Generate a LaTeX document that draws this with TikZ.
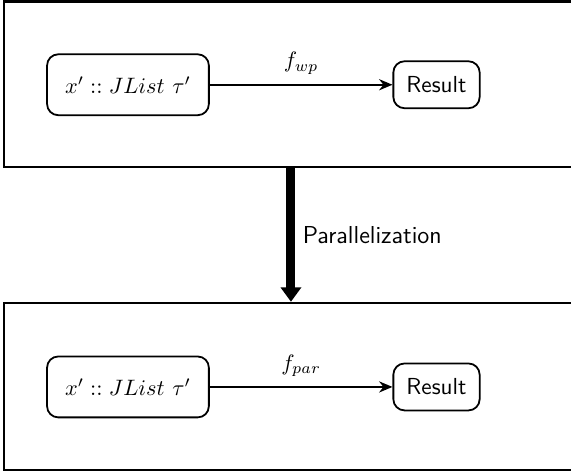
\documentclass[tikz,border=0pt]{standalone}
\usetikzlibrary{arrows.meta}
\usetikzlibrary{positioning}

\begin{document}
\begin{tikzpicture}[stage/.style={draw, line width=1.1pt, minimum width=9.05cm},
term/.style={draw, thick, rounded corners=5pt, minimum width=2.55cm, minimum height=0.96cm, font=\fontsize{10.4}{12}\selectfont},
res/.style={draw, thick, rounded corners=5pt, minimum width=1.36cm, minimum height=0.74cm, font=\fontsize{10.4}{12}\selectfont\sffamily},
fun/.style={thick, -{Stealth[length=6pt, width=5pt]}},
bigarrow/.style={line width=4pt, -{Triangle[length=6.5pt, width=9pt]}}]
\useasboundingbox (0,0) rectangle (9,7.455);
\node[stage, minimum height=2.61cm] (wp) at (4.586,6.127) {};
\node[stage, minimum height=2.63cm] (par) at (4.586,1.364) {};
\node[term] (xwp) at (2.017,6.119) {$x' :: JList~\tau'$};
\node[res, right = 2.88cm of xwp] (rwp) {Result};
\node[term] (xpar) at (2.017,1.356) {$x' :: JList~\tau'$};
\node[res, right = 2.88cm of xpar] (rpar) {Result};
\draw[fun] (xwp) -- (rwp) node[midway, above=1pt, font=\fontsize{10.4}{12}\selectfont] {$f_{wp}$};
\draw[fun] (xpar) -- (rpar) node[midway, above=1pt, font=\fontsize{10.4}{12}\selectfont] {$f_{par}$};
\draw[bigarrow] (wp.south) -- (par.north) node[midway, right, font=\fontsize{11}{13}\selectfont\sffamily] {Parallelization};
\end{tikzpicture}
\end{document}
